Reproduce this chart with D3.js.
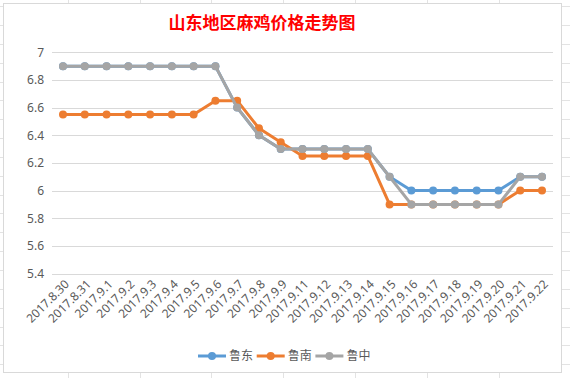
<!DOCTYPE html>
<html>
<head>
<meta charset="utf-8">
<script src="https://cdn.jsdelivr.net/npm/d3@7"></script>
<style>
  body { margin: 0; background: #fff; }
  text { font-family: "Noto Sans CJK SC", "Noto Sans", sans-serif; }
</style>
</head>
<body>
<div id="chart"></div>
<script>
// data
var dates = ['2017.8.30', '2017.8.31', '2017.9.1', '2017.9.2', '2017.9.3', '2017.9.4',
    '2017.9.5', '2017.9.6', '2017.9.7', '2017.9.8', '2017.9.9', '2017.9.11', '2017.9.12',
    '2017.9.13', '2017.9.14', '2017.9.15', '2017.9.16', '2017.9.17', '2017.9.18',
    '2017.9.19', '2017.9.20', '2017.9.21', '2017.9.22'];
var ludong = [6.9, 6.9, 6.9, 6.9, 6.9, 6.9, 6.9, 6.9, 6.6, 6.4, 6.3, 6.3, 6.3, 6.3, 6.3,
    6.1, 6.0, 6.0, 6.0, 6.0, 6.0, 6.1, 6.1];
var lunan = [6.55, 6.55, 6.55, 6.55, 6.55, 6.55, 6.55, 6.65, 6.65, 6.45, 6.35, 6.25, 6.25,
    6.25, 6.25, 5.9, 5.9, 5.9, 5.9, 5.9, 5.9, 6.0, 6.0];
var luzhong = [6.9, 6.9, 6.9, 6.9, 6.9, 6.9, 6.9, 6.9, 6.6, 6.4, 6.3, 6.3, 6.3, 6.3, 6.3,
    6.1, 5.9, 5.9, 5.9, 5.9, 5.9, 6.1, 6.1];
var seriesNames = ['鲁东', '鲁南', '鲁中'];
var yTicks = [5.4, 5.6, 5.8, 6, 6.2, 6.4, 6.6, 6.8, 7];
var title = '山东地区麻鸡价格走势图';

var colors = ['#5B9BD5', '#ED7D31', '#A5A5A5'];
var series = [ludong, lunan, luzhong].map(function(v, i) {
    return { name: seriesNames[i], color: colors[i],
        values: v.map(function(d, j) { return { date: dates[j], value: d }; }) };
});

var dim = { 'width': 570, 'height': 378 };
var svg = d3.select('#chart').append('svg').attr('width', dim.width).attr('height', dim.height);

// spreadsheet cells behind the chart
var sheet = svg.append('g').attr('stroke', '#e3e3e3').attr('stroke-width', 1);
for (var cx = 68 - 72; cx < dim.width; cx += 71.8) {
    sheet.append('line').attr('x1', Math.round(cx) + .5).attr('x2', Math.round(cx) + .5)
        .attr('y1', 0).attr('y2', dim.height);
}
for (var cy = 25 - 18.85; cy < dim.height; cy += 18.85) {
    sheet.append('line').attr('y1', Math.round(cy) + .5).attr('y2', Math.round(cy) + .5)
        .attr('x1', 0).attr('x2', dim.width);
}

// chart area
svg.append('rect').attr('x', 3.5).attr('y', 3.5).attr('width', 558).attr('height', 369)
    .attr('fill', '#fff').attr('stroke', '#d9d9d9');

var x = d3.scalePoint().domain(dates).range([63, 542]);
var y = d3.scaleLinear().domain([5.4, 7]).range([273.5, 52.3]);

// gridlines + y labels
var grid = svg.append('g');
grid.selectAll('line').data(yTicks).join('line')
    .attr('x1', 52).attr('x2', 553)
    .attr('y1', function(d) { return Math.round(y(d)) + .5; })
    .attr('y2', function(d) { return Math.round(y(d)) + .5; })
    .attr('stroke', '#d9d9d9');

var yAxis = d3.axisLeft(y).tickValues(yTicks).tickSize(0).tickPadding(8)
    .tickFormat(function(d) { return String(d); });
svg.append('g').attr('transform', 'translate(52,0)').call(yAxis)
    .call(function(g) { g.select('.domain').remove(); })
    .selectAll('text').attr('fill', '#595959').style('font-size', '12px')
    .style('font-family', '"Noto Sans", sans-serif');

// x labels
svg.append('g').selectAll('text').data(dates).join('text')
    .attr('transform', function(d) { return 'translate(' + (x(d) + 4) + ',282) rotate(-45)'; })
    .attr('text-anchor', 'end').attr('dy', '0.35em')
    .attr('fill', '#595959').style('font-size', '12px')
    .style('font-family', '"Noto Sans", sans-serif')
    .text(function(d) { return d; });

// lines
var line = d3.line().x(function(d) { return x(d.date); }).y(function(d) { return y(d.value); });

var sg = svg.append('g').selectAll('g').data(series).join('g');
sg.append('path')
    .attr('d', function(d) { return line(d.values); })
    .attr('fill', 'none').attr('stroke', function(d) { return d.color; })
    .attr('stroke-width', 3).attr('stroke-linejoin', 'round');
sg.selectAll('circle').data(function(d) { return d.values.map(function(v) { v.color = d.color; return v; }); })
    .join('circle')
    .attr('cx', function(d) { return x(d.date); })
    .attr('cy', function(d) { return y(d.value); })
    .attr('r', 4)
    .attr('fill', function(d) { return d.color; });

// title
svg.append('text').attr('x', 262).attr('y', 29).attr('text-anchor', 'middle')
    .attr('fill', '#FF0000').style('font-size', '17px').style('font-weight', 'bold')
    .text(title);

// legend
var legend = svg.append('g').selectAll('g').data(series).join('g')
    .attr('transform', function(d, i) { return 'translate(' + (198 + i * 58.7) + ',356)'; });
legend.append('line').attr('x1', 0).attr('x2', 28)
    .attr('stroke', function(d) { return d.color; }).attr('stroke-width', 3);
legend.append('circle').attr('cx', 14).attr('r', 4).attr('fill', function(d) { return d.color; });
legend.append('text').attr('x', 31).attr('dy', '0.35em')
    .attr('fill', '#595959').style('font-size', '12px')
    .text(function(d) { return d.name; });
</script>
</body>
</html>
